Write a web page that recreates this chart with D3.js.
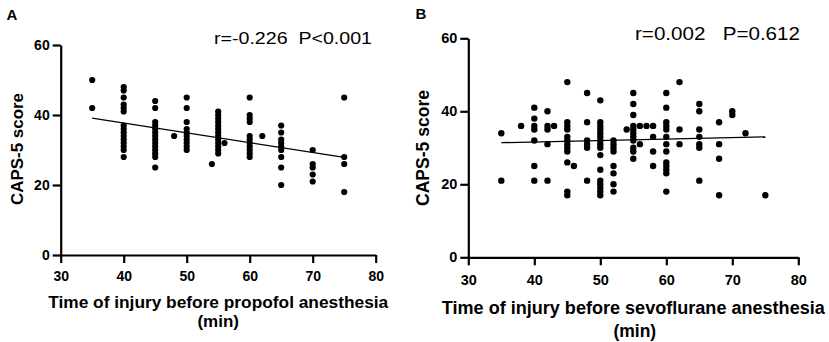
<!DOCTYPE html>
<html>
<head>
<meta charset="utf-8">
<script src="https://cdn.jsdelivr.net/npm/d3@7"></script>
<style>
  html, body { margin: 0; padding: 0; background: #fff; }
  svg { display: block; }
  text { font-family: "Liberation Sans", Arial, sans-serif; fill: #000; }
</style>
</head>
<body>
<svg id="chart" width="829" height="342"></svg>
<script>
// ---------- DATA ----------
// Panel A: time of injury (min) -> CAPS-5 scores (propofol)
const propofolTimes  = [35, 40, 45, 48, 50, 54, 55, 56, 60, 62, 65, 70, 75];
const propofolScores = [
  [50, 42],
  [48, 47, 45, 43, 42, 41, 37, 36, 35, 34, 33, 32, 31, 30, 28],
  [44, 42, 38, 37, 36, 35, 34, 33, 32, 31, 30, 29, 28, 25],
  [34],
  [45, 42, 38, 36, 35, 34, 33, 32, 31, 30],
  [26],
  [41, 40, 39, 38, 37, 36, 35, 34, 33, 32, 31, 30, 29],
  [32],
  [45, 40, 39, 38, 34, 33, 32, 31, 30, 29, 28],
  [34],
  [37, 35, 33, 32, 31, 30, 28, 25, 20],
  [30, 26, 25, 23, 21],
  [45, 28, 26, 18]
];
const propofolFit = [[35, 39.1], [75, 27.9]];
const propofolStat = "r=-0.226  P<0.001";

// Panel B: time of injury (min) -> CAPS-5 scores (sevoflurane)
const sevoTimes  = [35, 38, 40, 42, 43, 45, 46, 48, 50, 52, 54, 55, 56, 57, 58, 60, 62, 65, 68, 70, 72, 75];
const sevoScores = [
  [34, 21],
  [36],
  [41, 38, 36, 35, 32, 25, 21],
  [40, 36, 35, 31, 21],
  [36],
  [48, 37, 36, 35, 33, 32, 31, 30, 29, 26, 18, 17],
  [25],
  [45, 37, 32, 31, 30, 21],
  [43, 37, 36, 35, 34, 33, 32, 31, 30, 28, 24, 21, 20, 19, 18, 17],
  [32, 31, 30, 29, 25, 23, 20, 18],
  [35],
  [45, 42, 39, 36, 35, 34, 33, 32, 30, 29, 27],
  [36, 31],
  [36],
  [36, 33, 29, 25],
  [45, 41, 37, 36, 35, 33, 31, 29, 26, 25, 24, 23, 18],
  [48, 35, 31],
  [42, 40, 35, 33, 31, 30, 21],
  [37, 31, 27, 17],
  [40, 39],
  [34],
  [17]
];
const sevoFit = [[35, 31.4], [75, 33.0]];
const sevoStat = "r=0.002   P=0.612";

const xTicks = [30, 40, 50, 60, 70, 80];
const yTicks = [0, 20, 40, 60];
const yTitle = "CAPS-5 score";
const xTitleA = "Time of injury before propofol anesthesia";
const xTitleB = "Time of injury before sevoflurane anesthesia";
const xTitleUnit = "(min)";

// ---------- DRAW ----------
const svg = d3.select("#chart");

function panel(cfg) {
  const g = svg.append("g");
  const x = d3.scaleLinear().domain([30, 80]).range(cfg.xr);
  const y = d3.scaleLinear().domain([0, 60]).range(cfg.yr);

  // axes
  const ax = g.append("g").attr("transform", `translate(0,${cfg.yr[0]})`)
    .call(d3.axisBottom(x).tickValues(xTicks).tickSize(8).tickSizeOuter(0).tickPadding(cfg.xPad));
  const ay = g.append("g").attr("transform", `translate(${cfg.xr[0]},0)`)
    .call(d3.axisLeft(y).tickValues(yTicks).tickSize(8).tickSizeOuter(0).tickPadding(3));
  [ax, ay].forEach(a => {
    a.select(".domain").attr("stroke", "#000").attr("stroke-width", 2.2);
    a.selectAll(".tick line").attr("stroke", "#000").attr("stroke-width", 2.2);
    a.selectAll(".tick text").attr("font-family", "Liberation Sans, Arial, sans-serif")
      .attr("font-size", cfg.tickFs).attr("font-weight", "bold").attr("fill", "#000");
  });

  // points
  const pts = [];
  cfg.times.forEach((t, i) => cfg.scores[i].forEach(s => pts.push([t, s])));
  g.append("g").selectAll("circle").data(pts).join("circle")
    .attr("cx", d => x(d[0])).attr("cy", d => y(d[1])).attr("r", cfg.r).attr("fill", "#000");

  // regression line
  g.append("path").datum(cfg.fit)
    .attr("d", d3.line().x(d => x(d[0])).y(d => y(d[1])))
    .attr("stroke", "#000").attr("stroke-width", 1.3).attr("fill", "none");

  // panel letter
  g.append("text").attr("x", cfg.letterX).attr("y", cfg.letterY)
    .attr("font-size", 15).attr("font-weight", "bold").text(cfg.letter);

  // stat annotation
  g.append("text").attr("x", cfg.statX).attr("y", cfg.statY)
    .attr("xml:space", "preserve").style("white-space", "pre")
    .attr("font-size", cfg.statFs).attr("textLength", cfg.statW).attr("lengthAdjust", "spacingAndGlyphs")
    .text(cfg.stat);

  // y title
  g.append("text").attr("transform", `translate(${cfg.yTitleX},${cfg.yTitleY}) rotate(-90)`)
    .attr("text-anchor", "middle").attr("font-size", cfg.titleFs).attr("font-weight", "bold")
    .attr("textLength", cfg.yTitleW).attr("lengthAdjust", "spacingAndGlyphs")
    .text(yTitle);

  // x title
  const xc = (cfg.xr[0] + cfg.xr[1]) / 2;
  g.append("text").attr("x", xc).attr("y", cfg.xTitleY1).attr("text-anchor", "middle")
    .attr("font-size", cfg.titleFs).attr("font-weight", "bold")
    .attr("textLength", cfg.xTitleW).attr("lengthAdjust", "spacingAndGlyphs")
    .text(cfg.xTitle);
  g.append("text").attr("x", xc + cfg.unitDx).attr("y", cfg.xTitleY2).attr("text-anchor", "middle")
    .attr("font-size", cfg.titleFs).attr("font-weight", "bold")
    .text(xTitleUnit);
}

panel({
  xr: [60.7, 375.7], yr: [255, 45], xPad: 8.5, tickFs: 14, r: 3.1,
  times: propofolTimes, scores: propofolScores, fit: propofolFit,
  letter: "A", letterX: 6.5, letterY: 20,
  stat: propofolStat, statX: 214, statY: 44, statFs: 17, statW: 158,
  yTitleX: 22.5, yTitleY: 149, yTitleW: 112, titleFs: 17,
  xTitle: xTitleA, xTitleY1: 307.5, xTitleW: 340, xTitleY2: 327, unitDx: 0
});

panel({
  xr: [468.3, 798.3], yr: [257.3, 38.3], xPad: 9.5, tickFs: 14.5, r: 3.2,
  times: sevoTimes, scores: sevoScores, fit: sevoFit,
  letter: "B", letterX: 415.5, letterY: 18.5,
  stat: sevoStat, statX: 635, statY: 40, statFs: 18, statW: 165,
  yTitleX: 429, yTitleY: 148, yTitleW: 116, titleFs: 17.5,
  xTitle: xTitleB, xTitleY1: 313.5, xTitleW: 383, xTitleY2: 337, unitDx: 1.5
});
</script>
</body>
</html>
